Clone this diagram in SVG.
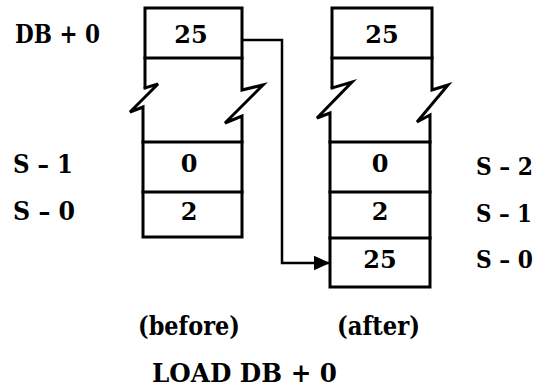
<svg xmlns="http://www.w3.org/2000/svg" width="542" height="388" viewBox="0 0 542 388">
<defs>
<style>
.ln{fill:none;stroke:#000;stroke-width:3;stroke-linejoin:miter;stroke-linecap:square}
.t{font-family:"DejaVu Serif","Liberation Serif",serif;font-weight:bold;font-size:26px;fill:#000}
.c{text-anchor:middle;font-size:24px}
.r{font-size:25px}
.cn{fill:none;stroke:#000;stroke-width:2.5}
</style>
<marker id="ah" viewBox="0 0 10 10" refX="10" refY="5" markerWidth="16" markerHeight="16" markerUnits="userSpaceOnUse" orient="auto">
<path d="M0,0.5 L10,5 L0,9.5 Z" fill="#000"/>
</marker>
</defs>
<rect width="542" height="388" fill="#fff"/>
<g id="before-stack">
<path class="ln" d="M145,88 V8 H242 V90 L263,85 L225,123 L242,116 V237 H143 V107 L130,112 L158,84 L145,88"/>
<path class="ln" d="M145,58 H242 M143,142 H242 M143,192 H242"/>
<text class="t c" x="191" y="43">25</text>
<text class="t c" x="189" y="172">0</text>
<text class="t c" x="189" y="220">2</text>
</g>
<g id="after-stack">
<path class="ln" d="M332,88 V8 H432 V90 L448,85 L417,122 L430,115 V287 H330 V113 L317,118 L352,82 L332,88"/>
<path class="ln" d="M332,58 H432 M330,142 H430 M330,192 H430 M330,238 H430"/>
<text class="t c" x="382" y="43">25</text>
<text class="t c" x="380" y="172">0</text>
<text class="t c" x="380" y="220">2</text>
<text class="t c" x="380" y="268">25</text>
</g>
<g id="connectors">
<path class="cn" d="M242,40 H282 V263 H330" marker-end="url(#ah)"/>
</g>
<g id="labels-left">
<text class="t" x="15" y="43" textLength="85" lengthAdjust="spacingAndGlyphs">DB + 0</text>
<text class="t" x="13" y="173" textLength="60" lengthAdjust="spacingAndGlyphs">S – 1</text>
<text class="t" x="13" y="220" textLength="62" lengthAdjust="spacingAndGlyphs">S – 0</text>
</g>
<g id="labels-right">
<text class="t r" x="476" y="175" textLength="57" lengthAdjust="spacingAndGlyphs">S – 2</text>
<text class="t r" x="476" y="222" textLength="56" lengthAdjust="spacingAndGlyphs">S – 1</text>
<text class="t r" x="476" y="268" textLength="57" lengthAdjust="spacingAndGlyphs">S – 0</text>
</g>
<g id="captions">
<text class="t" x="138" y="335" textLength="102" lengthAdjust="spacingAndGlyphs">(before)</text>
<text class="t" x="337" y="335" textLength="83" lengthAdjust="spacingAndGlyphs">(after)</text>
<text class="t" x="152" y="382" textLength="185" lengthAdjust="spacingAndGlyphs">LOAD DB + 0</text>
</g>
</svg>
